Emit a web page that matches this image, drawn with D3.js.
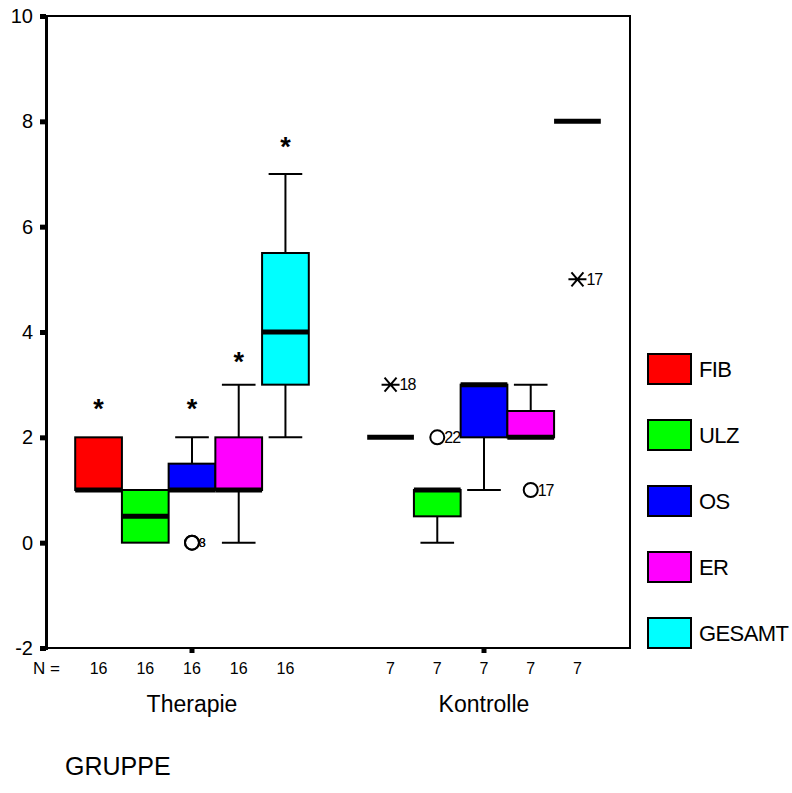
<!DOCTYPE html>
<html>
<head>
<meta charset="utf-8">
<title>Boxplot GRUPPE</title>
<script src="https://d3js.org/d3.v7.min.js"></script>
<style>
  body { margin: 0; background: #fff; }
  svg text { font-family: "Liberation Sans", Arial, sans-serif; fill: #000; }
</style>
</head>
<body>
<div id="chart"></div>
<script>
// gruppen und variablen
const groups = ["Therapie", "Kontrolle"];
const series = ["FIB", "ULZ", "OS", "ER", "GESAMT"];
const colors = ["#ff0000", "#00ff00", "#0000ff", "#ff00ff", "#00ffff"];
const yTicks = [-2, 0, 2, 4, 6, 8, 10];

// N je box
const nTherapie = [16, 16, 16, 16, 16];
const nKontrolle = [7, 7, 7, 7, 7];

// [whisker unten, Q1, median, Q3, whisker oben]
const statsTherapie = [
  [1, 1, 1, 2, 2],
  [0, 0, 0.5, 1, 1],
  [1, 1, 1, 1.5, 2],
  [0, 1, 1, 2, 3],
  [2, 3, 4, 5.5, 7]
];
const statsKontrolle = [
  [2, 2, 2, 2, 2],
  [0, 0.5, 1, 1, 1],
  [1, 2, 3, 3, 3],
  [2, 2, 2, 2.5, 3],
  [8, 8, 8, 8, 8]
];

// ausreisser: serie, wert, typ (o = ausreisser, x = extremwert), fall-nr.
const outTherapie = [
  ["FIB", 2.65, "*", ""],
  ["OS", 2.65, "*", ""],
  ["OS", 0, "o", "3"],
  ["OS", 0, "o", "8"],
  ["ER", 3.55, "*", ""],
  ["GESAMT", 7.62, "*", ""]
];
const outKontrolle = [
  ["FIB", 3, "x", "18"],
  ["ULZ", 2, "o", "22"],
  ["ER", 1, "o", "17"],
  ["GESAMT", 5, "x", "17"]
];

const stats = [statsTherapie, statsKontrolle];
const counts = [nTherapie, nKontrolle];
const outliers = [outTherapie, outKontrolle];

const W = 792, H = 793;
const mLeft = 46, mRight = 630, mTop = 16, mBottom = 648;

const svg = d3.select("#chart").append("svg")
    .attr("width", W)
    .attr("height", H);

const y = d3.scaleLinear().domain([-2, 10]).range([mBottom, mTop]);
const x0 = d3.scaleBand().domain(groups).range([mLeft, mRight]);
const x1 = d3.scaleBand().domain(series).range([0, x0.bandwidth()])
    .paddingInner(0).paddingOuter(0.625);
const bw = x1.bandwidth();
const color = d3.scaleOrdinal().domain(series).range(colors);

// rahmen
svg.append("rect")
    .attr("x", mLeft).attr("y", mTop)
    .attr("width", mRight - mLeft).attr("height", mBottom - mTop)
    .attr("fill", "none").attr("stroke", "#000").attr("stroke-width", 2);

// y-achse
const yAxis = svg.append("g")
    .attr("transform", "translate(" + mLeft + ",0)")
    .call(d3.axisLeft(y).tickValues(yTicks).tickSize(6).tickPadding(7)
        .tickFormat(function(d) { return String(d); }));
yAxis.select(".domain").attr("stroke-width", 3);
yAxis.selectAll(".tick line").attr("stroke-width", 5);
yAxis.selectAll(".tick text")
    .style("font-size", "20px")
    .attr("font-family", null);

// x-achse (nur markierungen + gruppennamen)
const xAxis = svg.append("g")
    .attr("transform", "translate(0," + mBottom + ")")
    .call(d3.axisBottom(x0).tickSize(5).tickPadding(43));
xAxis.select(".domain").remove();
xAxis.selectAll(".tick line").attr("stroke-width", 5);
xAxis.selectAll(".tick text")
    .style("font-size", "23px")
    .attr("font-family", null);

// boxen
groups.forEach(function(g, gi) {
  const grp = svg.append("g")
      .attr("transform", "translate(" + x0(g) + ",0)");

  series.forEach(function(s, si) {
    const d = stats[gi][si];
    const xl = x1(s), xc = xl + bw / 2, cap = bw * 0.36;

    // whisker
    if (d[0] < d[1]) {
      grp.append("line").attr("x1", xc).attr("x2", xc)
          .attr("y1", y(d[1])).attr("y2", y(d[0]))
          .attr("stroke", "#000").attr("stroke-width", 2);
      grp.append("line").attr("x1", xc - cap).attr("x2", xc + cap)
          .attr("y1", y(d[0])).attr("y2", y(d[0]))
          .attr("stroke", "#000").attr("stroke-width", 2);
    }
    if (d[4] > d[3]) {
      grp.append("line").attr("x1", xc).attr("x2", xc)
          .attr("y1", y(d[3])).attr("y2", y(d[4]))
          .attr("stroke", "#000").attr("stroke-width", 2);
      grp.append("line").attr("x1", xc - cap).attr("x2", xc + cap)
          .attr("y1", y(d[4])).attr("y2", y(d[4]))
          .attr("stroke", "#000").attr("stroke-width", 2);
    }

    grp.append("rect")
        .attr("x", xl).attr("y", y(d[3]))
        .attr("width", bw).attr("height", y(d[1]) - y(d[3]))
        .attr("fill", color(s))
        .attr("stroke", "#000").attr("stroke-width", 2);

    // median
    grp.append("line").attr("x1", xl).attr("x2", xl + bw)
        .attr("y1", y(d[2])).attr("y2", y(d[2]))
        .attr("stroke", "#000").attr("stroke-width", 5);
  });

  // ausreisser
  outliers[gi].forEach(function(o) {
    const xc = x1(o[0]) + bw / 2, yc = y(o[1]);
    if (o[2] === "*") {
      grp.append("text").attr("x", xc).attr("y", yc + 15)
          .attr("text-anchor", "middle")
          .style("font-size", "27px")
          .style("font-weight", "bold")
          .text("*");
    } else if (o[2] === "o") {
      grp.append("circle").attr("cx", xc).attr("cy", yc).attr("r", 7)
          .attr("fill", "none").attr("stroke", "#000").attr("stroke-width", 2);
    } else {
      grp.append("path")
          .attr("d", "M" + (xc - 9) + "," + yc + "H" + (xc + 9) +
                "M" + (xc - 6) + "," + (yc - 7) + "L" + (xc + 6) + "," + (yc + 7) +
                "M" + (xc - 6) + "," + (yc + 7) + "L" + (xc + 6) + "," + (yc - 7))
          .attr("fill", "none").attr("stroke", "#000").attr("stroke-width", 2);
    }
    if (o[3]) {
      const n = outliers[gi].filter(function(p) { return p[0] === o[0] && p[1] === o[1]; }).length;
      grp.append("text")
          .attr("x", xc + (o[2] === "o" ? 7 : 9))
          .attr("y", yc)
          .attr("dy", "0.36em")
          .style("font-size", n > 1 ? "12px" : "16px")
          .style("letter-spacing", "-1px")
          .text(o[3]);
    }
  });

  // N
  series.forEach(function(s, si) {
    grp.append("text")
        .attr("x", x1(s) + bw / 2).attr("y", 674)
        .attr("text-anchor", "middle")
        .style("font-size", "16px")
        .text(counts[gi][si]);
  });
});

svg.append("text").attr("x", 33).attr("y", 674)
    .style("font-size", "17px")
    .text("N =");

// legende
const leg = svg.append("g").attr("transform", "translate(648,354)");
series.forEach(function(s, i) {
  const row = leg.append("g").attr("transform", "translate(0," + (i * 66) + ")");
  row.append("rect").attr("width", 43).attr("height", 30)
      .attr("fill", color(s)).attr("stroke", "#000").attr("stroke-width", 2);
  row.append("text").attr("x", 51).attr("y", 23)
      .style("font-size", "22px")
      .style("letter-spacing", "-0.6px")
      .text(s);
});

svg.append("text").attr("x", 65).attr("y", 775)
    .style("font-size", "25px")
    .text("GRUPPE");
</script>
</body>
</html>
